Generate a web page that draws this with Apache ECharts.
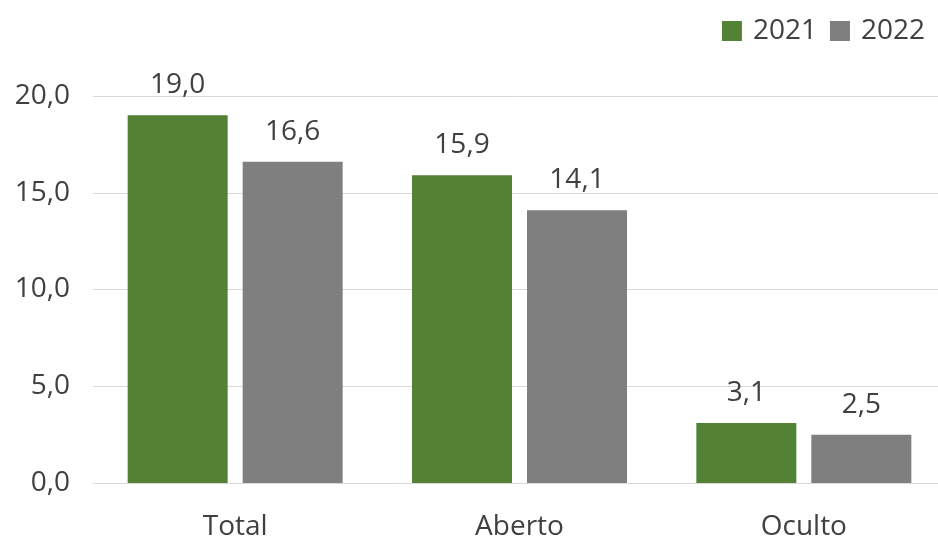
<!DOCTYPE html>
<html>
<head>
<meta charset="utf-8">
<script src="https://cdn.jsdelivr.net/npm/echarts@6/dist/echarts.min.js"></script>
<style>html,body{margin:0;padding:0;background:#fff;overflow:hidden}#c{width:946px;height:541px}</style>
</head>
<body>
<div id="c"></div>
<script>
const categories = ['Total', 'Aberto', 'Oculto'];
const values2021 = [19.0, 15.9, 3.1];
const values2022 = [16.6, 14.1, 2.5];
const seriesNames = ['2021', '2022'];
const yTicks = { min: 0, max: 20, interval: 5 };

const fmt = v => Number(v).toFixed(1).replace('.', ',');
const FONT = 'Open Sans';
const TXT = '#404040';
const FS = 28;

const chart = echarts.init(document.getElementById('c'), null, { renderer: 'canvas' });
chart.setOption({
  animation: false,
  backgroundColor: '#ffffff',
  textStyle: { fontFamily: FONT },
  legend: {
    data: seriesNames,
    right: 16,
    top: 12,
    itemWidth: 20,
    itemHeight: 20,
    itemGap: 13,
    icon: 'rect',
    textStyle: { fontFamily: FONT, fontSize: FS, color: TXT, padding: [0, 0, 0, 6] }
  },
  grid: { left: 93, top: 96, right: 0, height: 390 },
  xAxis: {
    type: 'category',
    data: categories,
    axisLine: { show: true, lineStyle: { color: '#d9d9d9', width: 1 } },
    axisTick: { show: false },
    axisLabel: { fontFamily: FONT, fontSize: FS, color: TXT, margin: 30 }
  },
  yAxis: {
    type: 'value',
    min: yTicks.min,
    max: yTicks.max,
    interval: yTicks.interval,
    axisLine: { show: false },
    axisTick: { show: false },
    splitLine: { lineStyle: { color: '#d9d9d9', width: 1 } },
    axisLabel: { fontFamily: FONT, fontSize: FS, color: TXT, margin: 23, formatter: fmt }
  },
  series: [
    {
      name: seriesNames[0],
      type: 'bar',
      data: values2021,
      barWidth: 100,
      barGap: '15%',
      itemStyle: { color: '#548235' },
      label: { show: true, position: 'top', distance: 16, fontFamily: FONT, fontSize: FS, color: TXT, formatter: p => fmt(p.value) }
    },
    {
      name: seriesNames[1],
      type: 'bar',
      data: values2022,
      barWidth: 100,
      barGap: '15%',
      itemStyle: { color: '#7f7f7f' },
      label: { show: true, position: 'top', distance: 16, fontFamily: FONT, fontSize: FS, color: TXT, formatter: p => fmt(p.value) }
    }
  ]
});
</script>
</body>
</html>
